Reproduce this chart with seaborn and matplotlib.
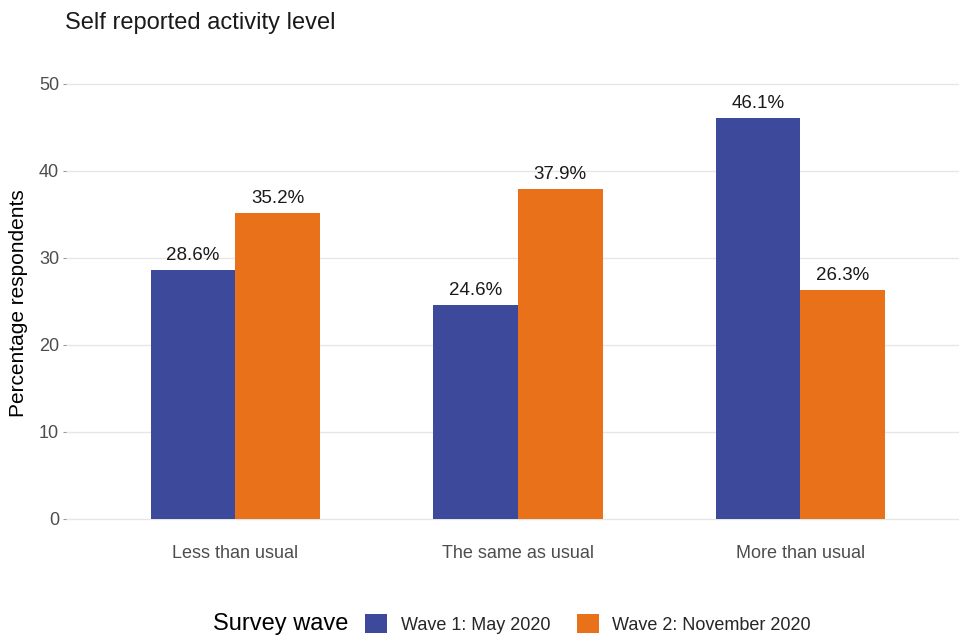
import matplotlib
matplotlib.use("Agg")
import matplotlib.pyplot as plt
import seaborn as sns
import pandas as pd
from matplotlib.patches import Patch

categories = ["Less than usual", "The same as usual", "More than usual"]
waves = ["Wave 1: May 2020", "Wave 2: November 2020"]
wave1 = [28.6, 24.6, 46.1]
wave2 = [35.2, 37.9, 26.3]
yticks = [0, 10, 20, 30, 40, 50]

colors = ["#3D4A9B", "#E8711A"]

df = pd.DataFrame({
    "category": categories * 2,
    "wave": [waves[0]] * 3 + [waves[1]] * 3,
    "value": wave1 + wave2,
})

sns.set_theme(style="white")
plt.rcParams["font.family"] = ["Liberation Sans", "DejaVu Sans"]

W, H = 959, 637
fig = plt.figure(figsize=(W / 100, H / 100), dpi=100)
ax_left = 66 / W
ax_bottom = (H - 532) / H
ax_height = 457 / H
ax_width = 904 / W
ax = fig.add_axes([ax_left, ax_bottom, ax_width, ax_height])

sns.barplot(data=df, x="category", y="value", hue="wave", hue_order=waves,
            order=categories, palette=colors, width=0.6, gap=0,
            saturation=1, legend=False, ax=ax, linewidth=0, edgecolor="none")

for cont in ax.containers:
    vals = cont.datavalues
    ax.bar_label(cont, labels=[f"{v:.1f}%" for v in vals], padding=4,
                 fontsize=13.5, color="#1a1a1a")

ax.set_xlim(-0.6, 2.6)
ax.set_ylim(-1.5, 51)
ax.set_yticks(yticks)
ax.set_yticklabels([str(t) for t in yticks])
for s in ax.spines.values():
    s.set_visible(False)
ax.grid(axis="y", color="#e6e6e6", linewidth=1.0)
ax.grid(axis="x", visible=False)
ax.set_axisbelow(True)
ax.tick_params(axis="y", length=2.5, width=0.8, color="#999999", pad=2.5,
               labelsize=13, labelcolor="#4d4d4d", left=True)
ax.tick_params(axis="x", length=0, pad=9, labelsize=13, labelcolor="#4d4d4d")
ax.set_xlabel("")
ax.set_ylabel("Percentage respondents", fontsize=15, color="#000000", labelpad=8)

fig.text(65 / W, 1 - 23 / H, "Self reported activity level", fontsize=17,
         color="#1a1a1a", ha="left", va="center")

fig.text(213 / W, 1 - 624 / H, "Survey wave", fontsize=17, color="#000000",
         ha="left", va="center")
handles = [Patch(facecolor=c, edgecolor="none") for c in colors]
fig.legend(handles, waves, loc="center left",
           bbox_to_anchor=(365 / W, 1 - 624 / H), ncol=2, frameon=False,
           fontsize=13, handlelength=1.22, handleheight=1.22,
           handletextpad=0.75, columnspacing=1.48, borderpad=0,
           borderaxespad=0)

fig.savefig("out.png", dpi=100)
